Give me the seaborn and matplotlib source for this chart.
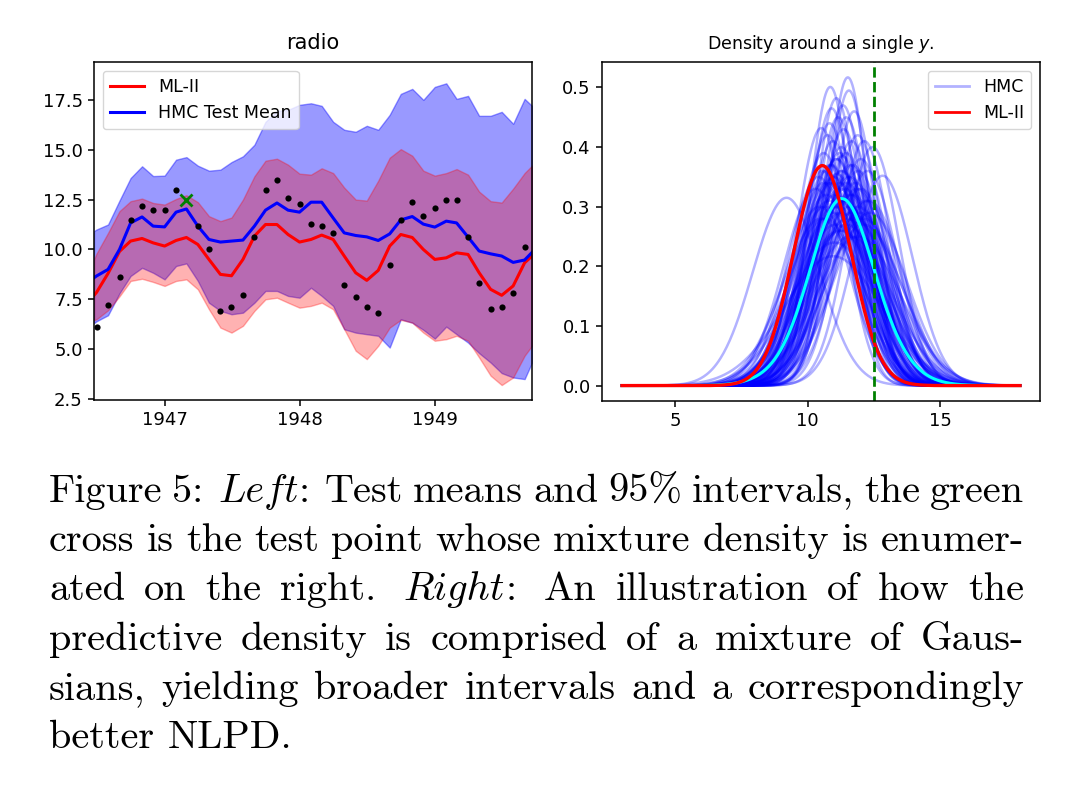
import matplotlib
matplotlib.use("Agg")
import matplotlib.pyplot as plt
import matplotlib.dates as mdates
from matplotlib.lines import Line2D
from matplotlib.ticker import MultipleLocator
import numpy as np
import pandas as pd
import seaborn as sns

# ---- left panel: radio sales, monthly ----
months = pd.date_range("1946-07-01", periods=39, freq="MS")
grid_dates = pd.DatetimeIndex([pd.Timestamp("1946-06-24")] + list(months) + [pd.Timestamp("1949-09-21")])

radio_sales = [6.1, 7.2, 8.6, 11.5, 12.2, 12.0, 12.0, 13.0, 12.5, 11.2,
               10.0, 6.9, 7.1, 7.7, 10.6, 13.0, 13.5, 12.6, 12.3, 11.3,
               11.2, 10.8, 8.2, 7.6, 7.1, 6.8, 9.2, 11.5, 12.4, 11.7,
               12.1, 12.5, 12.5, 10.6, 8.3, 7.0, 7.1, 7.8, 10.1]
test_month = 8

ml_mean = [7.70, 7.85, 8.80, 9.90, 10.42, 10.55, 10.33, 10.17, 10.45, 10.60, 10.25,
           9.50, 8.75, 8.68, 9.50, 10.67, 11.25, 11.25, 10.75, 10.37, 10.50,
           10.72, 10.50, 9.67, 8.83, 8.45, 8.95, 10.17, 10.75, 10.60, 10.00,
           9.50, 9.58, 9.83, 9.75, 8.83, 8.00, 7.70, 8.17, 9.33, 9.67]
ml_upper = [9.50, 9.80, 10.83, 11.92, 12.42, 12.55, 12.33, 12.25, 12.53, 12.72, 12.37,
            11.67, 11.42, 11.60, 12.50, 13.67, 14.45, 14.55, 14.25, 13.80, 13.75,
            14.07, 13.83, 13.10, 12.50, 12.45, 13.45, 14.60, 15.03, 14.70, 13.95,
            13.70, 13.83, 14.03, 13.75, 12.90, 12.42, 12.35, 13.05, 13.83, 14.20]
ml_lower = [6.45, 6.50, 6.95, 7.65, 8.42, 8.53, 8.37, 8.17, 8.42, 8.50, 8.00,
            7.00, 6.08, 5.83, 6.17, 6.92, 7.50, 7.58, 7.33, 7.08, 7.17,
            7.33, 7.00, 6.00, 4.92, 4.50, 5.17, 6.08, 6.47, 6.33, 5.83,
            5.42, 5.50, 5.67, 5.42, 4.58, 3.67, 3.20, 3.58, 4.67, 5.17]

hmc_mean = [8.58, 8.67, 9.00, 10.00, 11.33, 11.63, 11.17, 11.13, 11.87, 12.03, 11.17,
            10.50, 10.37, 10.42, 10.47, 11.17, 11.97, 12.33, 11.97, 11.87, 12.37,
            12.37, 11.58, 10.83, 10.70, 10.63, 10.45, 10.78, 11.48, 11.65, 11.27,
            11.12, 11.42, 11.33, 10.62, 9.92, 9.78, 9.67, 9.35, 9.47, 9.85]
hmc_upper = [10.92, 11.00, 11.25, 12.45, 13.58, 14.17, 13.68, 13.70, 14.50, 14.63, 14.20,
             13.95, 14.00, 14.38, 14.67, 15.25, 16.40, 16.95, 17.00, 17.25, 17.33,
             17.20, 16.40, 16.00, 15.90, 16.20, 16.00, 16.75, 17.80, 18.05, 17.50,
             18.15, 18.33, 17.55, 17.70, 16.70, 16.70, 16.90, 16.30, 17.55, 17.20]
hmc_lower = [6.30, 6.40, 6.70, 7.80, 8.67, 9.08, 8.83, 8.50, 9.17, 9.30, 8.42,
             7.33, 6.92, 6.75, 6.83, 7.33, 7.92, 7.92, 7.67, 7.58, 8.08,
             7.67, 7.17, 6.00, 5.83, 5.75, 5.67, 5.08, 6.50, 6.33, 5.97,
             5.53, 6.13, 5.75, 5.33, 4.80, 4.33, 3.80, 3.58, 3.50, 4.33]

# ---- right panel: predictive densities at the test point ----
test_value = 12.5
ml_mu, ml_peak = 10.55, 0.369
hmc_mu = [9.20, 12.82, 10.95, 11.51, 10.85, 11.08, 11.55, 11.33, 10.51, 10.82,
          12.13, 12.44, 11.88, 11.26, 11.07, 11.45, 12.10, 11.90, 10.70, 10.90,
          11.20, 11.60, 11.00, 11.40, 10.60, 11.70, 11.15, 11.35, 10.95, 11.75,
          12.00, 10.40, 11.50, 11.25, 10.75, 11.85, 12.25, 11.05, 11.65, 10.65,
          11.30, 11.10, 11.45, 10.90, 11.95, 12.30, 10.50, 11.20, 11.60, 10.85,
          10.30, 10.45, 10.55, 10.65, 10.75, 10.80, 10.90, 10.95, 11.00, 11.05,
          11.10, 11.15, 11.20, 11.25, 11.30, 11.35, 11.40, 11.45, 11.50, 11.55,
          11.60, 11.65, 11.70, 11.80, 11.90, 12.00, 12.10, 12.20, 11.00, 11.30,
          11.60, 10.70, 11.90, 11.20, 10.95, 11.45, 12.35, 10.60, 11.75, 11.15]
hmc_peak = [0.315, 0.352, 0.217, 0.517, 0.501, 0.482, 0.495, 0.470, 0.432, 0.440,
            0.410, 0.400, 0.420, 0.400, 0.380, 0.390, 0.270, 0.250, 0.360, 0.340,
            0.330, 0.350, 0.300, 0.310, 0.390, 0.370, 0.450, 0.430, 0.410, 0.460,
            0.380, 0.350, 0.280, 0.360, 0.420, 0.330, 0.360, 0.270, 0.410, 0.300,
            0.385, 0.355, 0.450, 0.465, 0.290, 0.310, 0.280, 0.260, 0.320, 0.370,
            0.330, 0.300, 0.360, 0.280, 0.340, 0.310, 0.370, 0.290, 0.350, 0.320,
            0.380, 0.300, 0.340, 0.290, 0.360, 0.310, 0.330, 0.270, 0.350, 0.300,
            0.370, 0.290, 0.320, 0.340, 0.300, 0.330, 0.280, 0.310, 0.240, 0.260,
            0.250, 0.320, 0.360, 0.390, 0.350, 0.340, 0.290, 0.340, 0.280, 0.310]

caption_lines = [
    "Figure 5: *Left:* Test means and 95% intervals, the green",
    "cross is the test point whose mixture density is enumer-",
    "ated on the right. *Right:* An illustration of how the",
    "predictive density is comprised of a mixture of Gaus-",
    "sians, yielding broader intervals and a correspondingly",
    "better NLPD.",
]


def gauss(x, mu, peak):
    sd = 1.0 / (np.sqrt(2 * np.pi) * peak)
    return peak * np.exp(-0.5 * ((x - mu) / sd) ** 2)


W, H = 1090, 798
fig = plt.figure(figsize=(W / 100, H / 100), dpi=100)
ax1 = fig.add_axes([94 / W, 1 - 400 / H, 438 / W, 338 / H])
ax2 = fig.add_axes([602 / W, 1 - 401 / H, 438 / W, 339 / H])

# left
ax1.fill_between(grid_dates, hmc_lower, hmc_upper, color="blue", alpha=0.4)
ax1.fill_between(grid_dates, ml_lower, ml_upper, color="red", alpha=0.3)
sns.lineplot(x=grid_dates, y=ml_mean, color="red", lw=2.2, label="ML-II", ax=ax1)
sns.lineplot(x=grid_dates, y=hmc_mean, color="blue", lw=2.2, label="HMC Test Mean", ax=ax1)
train = pd.DataFrame({"date": months, "sales": radio_sales}).drop(index=test_month)
sns.scatterplot(data=train, x="date", y="sales", color="black", s=20, linewidth=0, ax=ax1, zorder=5)
ax1.plot(months[test_month], radio_sales[test_month], "x", color="green", ms=9, mew=2, zorder=6)

ax1.set_xlim(grid_dates[0], grid_dates[-1])
ax1.set_ylim(2.45, 19.4)
ax1.yaxis.set_major_locator(MultipleLocator(2.5))
ax1.xaxis.set_major_locator(mdates.YearLocator())
ax1.xaxis.set_major_formatter(mdates.DateFormatter("%Y"))
ax1.set_xlabel("")
ax1.set_ylabel("")
ax1.set_title("radio", fontsize=15, pad=9.5)
ax1.legend(loc="upper left", fontsize=12.5)

# right
y_grid = np.linspace(3, 18, 400)
hmc_df = pd.concat(
    [pd.DataFrame({"y": y_grid, "density": gauss(y_grid, m, p), "sample": i})
     for i, (m, p) in enumerate(zip(hmc_mu, hmc_peak))],
    ignore_index=True)
mixture = hmc_df.groupby("y")["density"].mean()

sns.lineplot(data=hmc_df, x="y", y="density", units="sample", estimator=None,
             color="blue", alpha=0.3, lw=1.8, legend=False, ax=ax2)
sns.lineplot(x=mixture.index, y=mixture.values, color="cyan", lw=2.2, ax=ax2)
sns.lineplot(x=y_grid, y=gauss(y_grid, ml_mu, ml_peak), color="red", lw=2.4, ax=ax2)
ax2.axvline(test_value, color="green", ls="--", lw=2)
ax2.xaxis.set_major_locator(MultipleLocator(5))
ax2.yaxis.set_major_locator(MultipleLocator(0.1))
ax2.set_xlabel("")
ax2.set_ylabel("")
ax2.set_title("Density around a single $y$.", fontsize=12.5, pad=9.5)
handles = [Line2D([], [], color="blue", alpha=0.3, lw=2),
           Line2D([], [], color="red", lw=2)]
ax2.legend(handles, ["HMC", "ML-II"], loc="upper right", fontsize=12.5)

for ax in (ax1, ax2):
    ax.tick_params(labelsize=13, length=4.6, width=1.1)
    for sp in ax.spines.values():
        sp.set_linewidth(1.1)

# caption, justified like the LaTeX source
renderer = fig.canvas.get_renderer()
cap_size = 29
left_px, right_px = 49, 1024
baselines = [502, 551, 600, 650, 699, 748]


def make_word(token, y):
    parts = []
    if token.startswith("*"):
        word = token.strip("*")
        body, tail = (word[:-1], word[-1]) if word.endswith(":") else (word, "")
        parts.append(fig.text(0, y, body, family="cmmi10", fontsize=cap_size, va="baseline"))
        if tail:
            parts.append(fig.text(0, y, tail, family="cmr10", fontsize=cap_size, va="baseline"))
    else:
        parts.append(fig.text(0, y, token, family="cmr10", fontsize=cap_size, va="baseline"))
    widths = [p.get_window_extent(renderer).width for p in parts]
    return parts, widths


space_px = 0.333 * cap_size * 100 / 72
for li, (line, base) in enumerate(zip(caption_lines, baselines)):
    y = 1 - base / H
    words = [make_word(tok, y) for tok in line.split()]
    total = sum(sum(w) for _, w in words)
    weights = [1.5 if tok.strip("*")[-1] in ".:" else 1.0 for tok in line.split()[:-1]]
    if li < len(caption_lines) - 1:
        unit = (right_px - left_px - total) / sum(weights)
    else:
        unit = space_px
    x = left_px
    for wi, (parts, widths) in enumerate(words):
        for p, w in zip(parts, widths):
            p.set_x(x / W)
            x += w
        if wi < len(weights):
            x += unit * weights[wi]

fig.savefig("out.png", dpi=100)
